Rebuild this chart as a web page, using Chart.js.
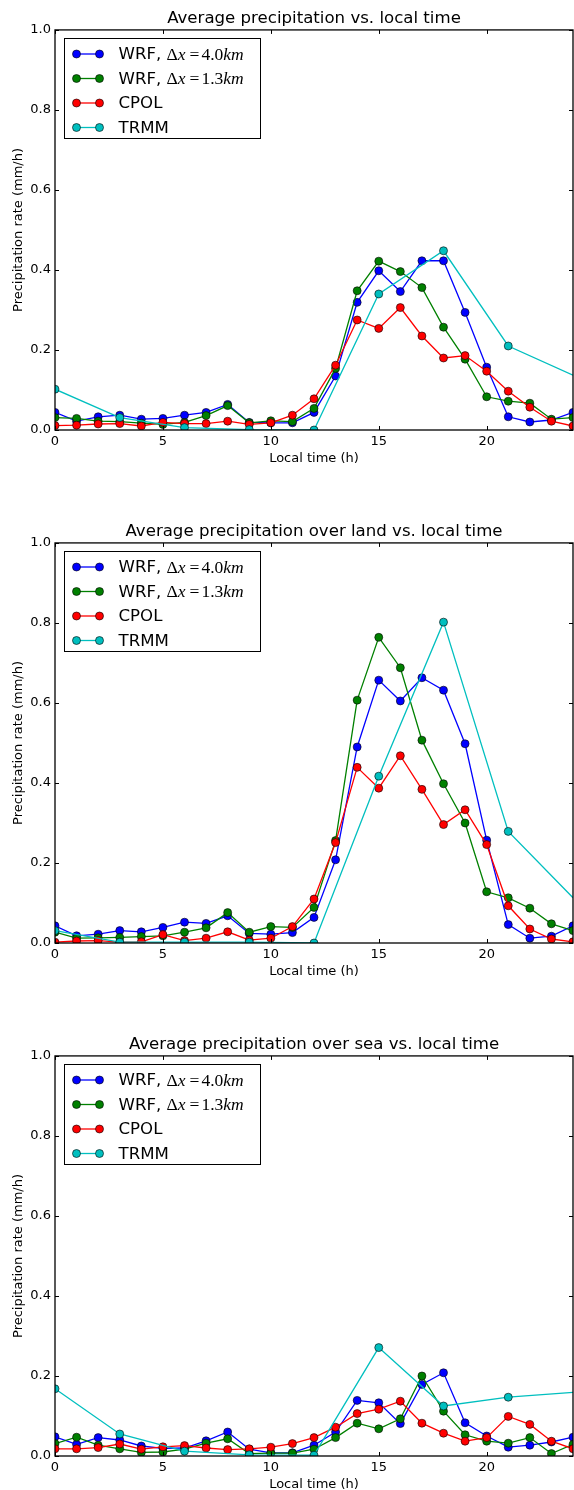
<!DOCTYPE html>
<html>
<head>
<meta charset="utf-8">
<title>Average precipitation vs. local time</title>
<script src="https://cdn.jsdelivr.net/npm/chart.js"></script>
<style>
  body { margin:0; background:#fff; width:574px; height:1490px; overflow:hidden; position:relative; }
  .panel { position:absolute; left:0; width:574px; height:470px; }
</style>
</head>
<body>
<div class="panel" style="top:0px"><canvas id="chartAll" width="574" height="470"></canvas></div>
<div class="panel" style="top:513px"><canvas id="chartLand" width="574" height="470"></canvas></div>
<div class="panel" style="top:1026px"><canvas id="chartSea" width="574" height="470"></canvas></div>

<script>
// ---------------- Data ----------------
const hours = [0, 1, 2, 3, 4, 5, 6, 7, 8, 9, 10, 11, 12, 13, 14, 15, 16, 17, 18, 19, 20, 21, 22, 23, 24];
const trmmHours = [0, 3, 6, 9, 12, 15, 18, 21, 24];
const xTicks = [0, 5, 10, 15, 20];
const yTicks = [0, 0.2, 0.4, 0.6, 0.8, 1.0];

const seriesNames = ['WRF, Δx = 4.0km', 'WRF, Δx = 1.3km', 'CPOL', 'TRMM'];
const seriesColors = ['#0000ff', '#008000', '#ff0000', '#00bfbf'];

// all points
const wrf4All  = [0.044, 0.022, 0.033, 0.037, 0.027, 0.029, 0.037, 0.044, 0.064, 0.019, 0.018, 0.018, 0.044, 0.135, 0.319, 0.398, 0.346, 0.423, 0.423, 0.294, 0.157, 0.033, 0.020, 0.025, 0.044];
const wrf13All = [0.031, 0.029, 0.022, 0.021, 0.017, 0.014, 0.019, 0.036, 0.061, 0.018, 0.023, 0.021, 0.054, 0.154, 0.348, 0.422, 0.396, 0.356, 0.257, 0.177, 0.083, 0.072, 0.067, 0.027, 0.031];
const cpolAll  = [0.011, 0.012, 0.015, 0.016, 0.010, 0.019, 0.016, 0.016, 0.022, 0.014, 0.018, 0.037, 0.078, 0.162, 0.275, 0.254, 0.306, 0.235, 0.180, 0.186, 0.147, 0.097, 0.057, 0.022, 0.010];
const trmmAll  = [0.102, 0.031, 0.006, 0.001, 0.000, 0.340, 0.448, 0.210, 0.137];

// land
const wrf4Land  = [0.043, 0.018, 0.022, 0.031, 0.028, 0.039, 0.052, 0.049, 0.068, 0.024, 0.022, 0.026, 0.064, 0.208, 0.490, 0.657, 0.605, 0.663, 0.632, 0.498, 0.257, 0.046, 0.012, 0.017, 0.043];
const wrf13Land = [0.027, 0.012, 0.013, 0.014, 0.016, 0.018, 0.027, 0.038, 0.076, 0.027, 0.041, 0.039, 0.089, 0.256, 0.607, 0.764, 0.688, 0.507, 0.398, 0.300, 0.128, 0.113, 0.087, 0.048, 0.031];
const cpolLand  = [0.002, 0.005, 0.006, 0.002, 0.003, 0.021, 0.006, 0.012, 0.028, 0.007, 0.012, 0.041, 0.110, 0.251, 0.439, 0.387, 0.468, 0.384, 0.296, 0.333, 0.246, 0.093, 0.035, 0.010, 0.003];
const trmmLand  = [0.031, 0.002, 0.002, 0.002, 0.000, 0.417, 0.802, 0.279, 0.113];

// sea
const wrf4Sea  = [0.048, 0.029, 0.046, 0.040, 0.025, 0.019, 0.020, 0.038, 0.060, 0.017, 0.008, 0.008, 0.027, 0.060, 0.139, 0.133, 0.081, 0.179, 0.208, 0.083, 0.050, 0.022, 0.027, 0.035, 0.047];
const wrf13Sea = [0.031, 0.047, 0.027, 0.018, 0.009, 0.010, 0.017, 0.032, 0.043, 0.006, 0.007, 0.007, 0.017, 0.046, 0.082, 0.068, 0.093, 0.200, 0.112, 0.053, 0.037, 0.032, 0.046, 0.006, 0.029];
const cpolSea  = [0.018, 0.018, 0.021, 0.030, 0.017, 0.023, 0.026, 0.020, 0.016, 0.018, 0.022, 0.031, 0.046, 0.072, 0.106, 0.117, 0.137, 0.082, 0.057, 0.037, 0.046, 0.099, 0.079, 0.037, 0.018];
const trmmSea  = [0.168, 0.055, 0.012, 0.003, 0.002, 0.271, 0.125, 0.147, 0.159];

// ---------------- Plugins ----------------
const SANS = '"DejaVu Sans", sans-serif';
const SERIF = '"Liberation Serif", serif';

// legend label: plain part in sans, math part (from Δ on) in serif
function drawLabel(ctx, text, x, y) {
  const cut = text.indexOf('Δ');
  const plain = cut < 0 ? text : text.slice(0, cut);
  ctx.font = '16.6px ' + SANS;
  ctx.fillText(plain, x, y);
  x += ctx.measureText(plain).width;
  if (cut < 0) return;
  for (const ch of text.slice(cut)) {
    if (ch === ' ') continue;
    ctx.font = (/[a-z]/i.test(ch) ? 'italic ' : '') + '17.5px ' + SERIF;
    if (ch === '=') x += 4;
    ctx.fillText(ch, x, y);
    x += ctx.measureText(ch).width + (ch === '=' ? 2 : 0);
  }
}

const boxLegend = {
  id: 'boxLegend',
  afterDatasetsDraw(chart) {
    const { ctx, chartArea: a } = chart;
    const left = Math.round(a.left + 9) + 0.5, top = Math.round(a.top + 8) + 0.5;
    ctx.save();
    ctx.fillStyle = '#fff';
    ctx.strokeStyle = '#000';
    ctx.lineWidth = 1;
    ctx.fillRect(left, top, 196, 100);
    ctx.strokeRect(left, top, 196, 100);
    chart.data.datasets.forEach((ds, i) => {
      const y = top + 15.5 + i * 24.5;
      ctx.strokeStyle = ds.borderColor;
      ctx.lineWidth = 1.3;
      ctx.beginPath();
      ctx.moveTo(left + 12, y);
      ctx.lineTo(left + 35, y);
      ctx.stroke();
      [12, 35].forEach(dx => {
        ctx.beginPath();
        ctx.arc(left + dx, y, 4, 0, Math.PI * 2);
        ctx.fillStyle = ds.borderColor;
        ctx.fill();
        ctx.strokeStyle = '#000';
        ctx.lineWidth = 0.6;
        ctx.stroke();
      });
      ctx.fillStyle = '#000';
      ctx.textBaseline = 'middle';
      ctx.textAlign = 'left';
      drawLabel(ctx, ds.label, left + 54, y + 1);
    });
    ctx.restore();
  }
};

// axes frame with inward ticks on all four sides
const frameTicks = {
  id: 'frameTicks',
  afterDraw(chart) {
    const { ctx, chartArea: a, scales: { x, y } } = chart;
    ctx.save();
    ctx.strokeStyle = '#000';
    ctx.lineWidth = 1;
    ctx.beginPath();
    xTicks.forEach(v => {
      const px = Math.round(x.getPixelForValue(v)) + 0.5;
      ctx.moveTo(px, a.bottom); ctx.lineTo(px, a.bottom - 4);
      ctx.moveTo(px, a.top); ctx.lineTo(px, a.top + 4);
    });
    yTicks.forEach(v => {
      const py = Math.round(y.getPixelForValue(v)) + 0.5;
      ctx.moveTo(a.left, py); ctx.lineTo(a.left + 4, py);
      ctx.moveTo(a.right, py); ctx.lineTo(a.right - 4, py);
    });
    ctx.stroke();
    ctx.lineWidth = 1.3;
    ctx.strokeRect(a.left, a.top, a.right - a.left, a.bottom - a.top);
    ctx.restore();
  }
};

// ---------------- Charts ----------------
function makeChart(id, titleText, wrf4, wrf13, cpol, trmm) {
  const series = [
    hours.map((h, i) => ({ x: h, y: wrf4[i] })),
    hours.map((h, i) => ({ x: h, y: wrf13[i] })),
    hours.map((h, i) => ({ x: h, y: cpol[i] })),
    trmmHours.map((h, i) => ({ x: h, y: trmm[i] }))
  ];
  const datasets = series.map((data, i) => ({
    label: seriesNames[i],
    data: data,
    borderColor: seriesColors[i],
    backgroundColor: seriesColors[i],
    pointBackgroundColor: seriesColors[i],
    pointBorderColor: '#000',
    pointBorderWidth: 0.6,
    // TRMM's last value sits past the right edge, so no marker there
    pointRadius: i === 3 ? trmmHours.map(h => h < 24 ? 4 : 0) : 4,
    borderWidth: 1.3,
    tension: 0,
    fill: false,
    clip: 0,
    order: 3 - i
  }));

  const tickFont = { family: SANS, size: 13, lineHeight: 1.2 };

  return new Chart(document.getElementById(id), {
    type: 'line',
    data: { datasets },
    options: {
      responsive: false,
      animation: false,
      events: [],
      layout: { autoPadding: false, padding: { right: 1 } },
      plugins: {
        legend: { display: false },
        tooltip: { enabled: false },
        title: {
          display: true,
          text: titleText,
          fullSize: false,
          color: '#000',
          font: { family: SANS, size: 16.6, weight: 'normal', lineHeight: 1.2 },
          padding: { top: 8.5, bottom: 1.5 }
        }
      },
      scales: {
        x: {
          type: 'linear',
          min: 0,
          max: 24,
          grid: { display: false, drawTicks: false },
          border: { display: false },
          afterBuildTicks: s => { s.ticks = xTicks.map(v => ({ value: v })); },
          afterFit: s => { s.height = 40; s.paddingLeft = 0; s.paddingRight = 0; },
          ticks: { color: '#000', padding: 4, font: tickFont, maxRotation: 0, autoSkip: false },
          title: { display: true, text: 'Local time (h)', color: '#000', font: tickFont, padding: { top: 0, bottom: 4 } }
        },
        y: {
          type: 'linear',
          min: 0,
          max: 1,
          grid: { display: false, drawTicks: false },
          border: { display: false },
          afterBuildTicks: s => { s.ticks = yTicks.map(v => ({ value: v })); },
          afterFit: s => { s.width = 55; s.paddingTop = 0; s.paddingBottom = 0; },
          ticks: { color: '#000', padding: 4, font: tickFont, callback: v => v.toFixed(1) },
          title: { display: true, text: 'Precipitation rate (mm/h)', color: '#000', font: tickFont, padding: { top: 11, bottom: 0 } }
        }
      }
    },
    plugins: [boxLegend, frameTicks]
  });
}

makeChart('chartAll', 'Average precipitation vs. local time', wrf4All, wrf13All, cpolAll, trmmAll);
makeChart('chartLand', 'Average precipitation over land vs. local time', wrf4Land, wrf13Land, cpolLand, trmmLand);
makeChart('chartSea', 'Average precipitation over sea vs. local time', wrf4Sea, wrf13Sea, cpolSea, trmmSea);
</script>
</body>
</html>
